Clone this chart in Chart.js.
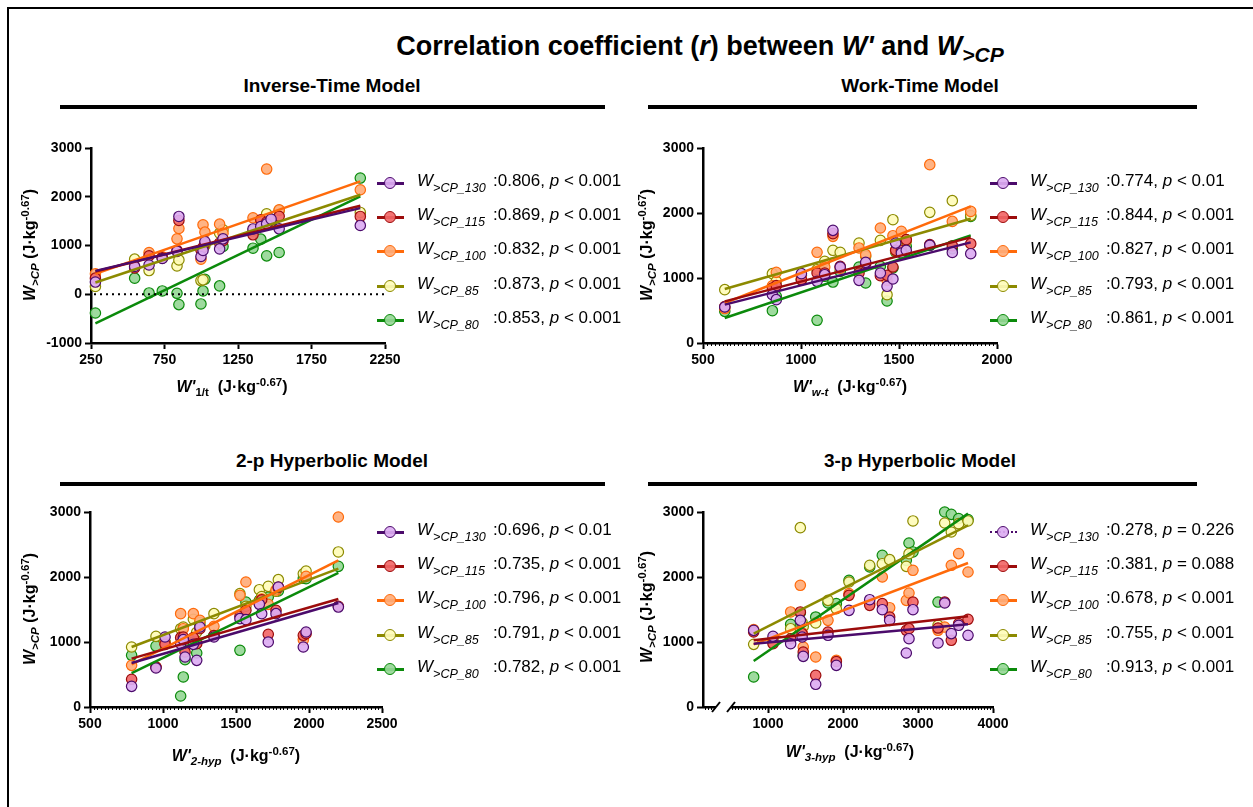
<!DOCTYPE html>
<html>
<head>
<meta charset="utf-8">
<script src="https://cdn.jsdelivr.net/npm/chart.js@4.4.0/dist/chart.umd.min.js"></script>
<style>
body{margin:0;width:1253px;height:807px;background:#fff;position:relative;overflow:hidden;font-family:"Liberation Sans",Arial,sans-serif;color:#000}
#frame{position:absolute;left:7px;top:7px;width:1300px;height:900px;border:2px solid #000}
canvas{position:absolute}
.t{position:absolute;white-space:nowrap;font-weight:bold}
.bar{position:absolute;height:4px;background:#000}
.ytitle{position:absolute;width:220px;height:22px;text-align:center;font-weight:bold;font-size:16px;line-height:22px;transform:rotate(-90deg);white-space:nowrap}
.xtitle{position:absolute;width:240px;height:22px;text-align:center;font-weight:bold;font-size:16px;line-height:22px;white-space:nowrap}
.sb{font-size:0.72em;vertical-align:-0.35em;line-height:0}
.sp{font-size:0.72em;vertical-align:0.55em;line-height:0}
.leg{position:absolute;font-size:17px;line-height:20px;white-space:nowrap}
.leg .lab{display:inline-block;width:76px}
.leg .sb{font-size:0.74em;vertical-align:-0.45em}
.mk{position:absolute;width:27px;height:14px}
.mk .ln{position:absolute;left:0;right:0;top:6px;height:3px}
.mk .dot{position:absolute;left:7px;top:1px;width:10px;height:10px;border-radius:50%;border:1.5px solid}
</style>
</head>
<body>
<div id="frame"></div>
<div class="t" style="left:0;width:1400px;text-align:center;top:31px;font-size:27px">Correlation coefficient (<i>r</i>) between <i>W'</i> and <i>W</i><span class="sb" style="font-size:0.78em"><i>&gt;CP</i></span></div>

<div class="t" style="left:132px;width:400px;text-align:center;top:75px;font-size:19px">Inverse-Time Model</div>
<div class="bar" style="left:60px;width:545px;top:105px"></div>
<div class="t" style="left:720px;width:400px;text-align:center;top:75px;font-size:19px">Work-Time Model</div>
<div class="bar" style="left:648px;width:549px;top:105px"></div>
<div class="t" style="left:132px;width:400px;text-align:center;top:450px;font-size:19px">2-p Hyperbolic Model</div>
<div class="bar" style="left:60px;width:545px;top:482px"></div>
<div class="t" style="left:720px;width:400px;text-align:center;top:450px;font-size:19px">3-p Hyperbolic Model</div>
<div class="bar" style="left:648px;width:549px;top:482px"></div>

<canvas id="c1"></canvas>
<canvas id="c2"></canvas>
<canvas id="c3"></canvas>
<canvas id="c4"></canvas>

<div class="ytitle" style="left:-80px;top:234px"><i>W</i><span class="sb"><i>&gt;CP</i></span> (J·kg<span class="sp">-0.67</span>)</div>
<div class="ytitle" style="left:537px;top:234px"><i>W</i><span class="sb"><i>&gt;CP</i></span> (J·kg<span class="sp">-0.67</span>)</div>
<div class="ytitle" style="left:-80px;top:598px"><i>W</i><span class="sb"><i>&gt;CP</i></span> (J·kg<span class="sp">-0.67</span>)</div>
<div class="ytitle" style="left:537px;top:596px"><i>W</i><span class="sb"><i>&gt;CP</i></span> (J·kg<span class="sp">-0.67</span>)</div>

<div class="xtitle" style="left:112px;top:376px"><i>W'</i><span class="sb">1/t</span>&nbsp; (J·kg<span class="sp">-0.67</span>)</div>
<div class="xtitle" style="left:730px;top:376px"><i>W'</i><span class="sb"><i>w-t</i></span>&nbsp; (J·kg<span class="sp">-0.67</span>)</div>
<div class="xtitle" style="left:116px;top:745px"><i>W'</i><span class="sb"><i>2-hyp</i></span>&nbsp; (J·kg<span class="sp">-0.67</span>)</div>
<div class="xtitle" style="left:730px;top:741px"><i>W'</i><span class="sb"><i>3-hyp</i></span>&nbsp; (J·kg<span class="sp">-0.67</span>)</div>

<div id="legends"></div>

<script>
// grupos (% de CP)
const groups = ['130', '115', '100', '85', '80'];

// Inverse-Time
const invX = [280, 547, 645, 735, 835, 848, 998, 1012, 1025, 1125, 1148, 1352, 1405, 1445, 1475, 1530, 2082];
const inv130 = [250, 570, 600, 733, 880, 1596, 774, 900, 1082, 930, 1137, 1340, 1390, 1445, 1541, 1342, 1411];
const inv115 = [330, 540, 790, 750, 900, 1514, 910, 960, 1048, 1050, 1100, 1219, 1527, 1480, 1520, 1600, 1596];
const inv100 = [420, 560, 856, 770, 1137, 1349, 719, 1425, 1274, 1438, 1250, 1568, 1500, 2568, 1520, 1733, 2144];
const inv85 = [160, 720, 486, 740, 582, 705, 281, 295, 1000, 1253, 1322, 1300, 1400, 1650, 1530, 1720, 1678];
const inv80 = [-385, 330, 27, 68, 20, -212, -199, 68, 308, 171, 980, 945, 1130, 788, 1480, 856, 2384];
const invLineX = [280, 2082];
const invLine130 = [479, 1767];
const invLine115 = [466, 1815];
const invLine100 = [418, 2315];
const invLine85 = [240, 2041];
const invLine80 = [-596, 2007];
const invR = ['0.806', '0.869', '0.832', '0.873', '0.853'];
const invP = ['< 0.001', '< 0.001', '< 0.001', '< 0.001', '< 0.001'];

// Work-Time
const wtX = [611, 854, 874, 1002, 1082, 1121, 1163, 1200, 1296, 1330, 1405, 1439, 1469, 1483, 1512, 1537, 1657, 1772, 1866];
const wt130 = [554, 744, 667, 1067, 949, 1051, 1733, 1169, 964, 1241, 1077, 872, 985, 1538, 1385, 1426, 1503, 1394, 1374];
const wt115 = [560, 846, 882, 974, 1077, 1077, 1682, 1180, 1077, 1221, 1036, 1041, 1169, 1426, 1426, 1590, 1513, 1497, 1528];
const wt100 = [530, 880, 1087, 990, 1395, 1169, 1641, 1150, 1462, 1359, 1769, 964, 1651, 1420, 1718, 1590, 2744, 1871, 2025];
const wt85 = [821, 1067, 950, 1040, 1128, 1256, 1426, 1395, 1538, 1333, 1579, 744, 1897, 1430, 1500, 1564, 2010, 2190, 1960];
const wt80 = [487, 497, 718, 970, 349, 1026, 938, 1100, 1169, 923, 1180, 646, 1154, 1400, 1440, 1487, 1500, 1450, 1948];
const wtLineX = [611, 1866];
const wtLine130 = [590, 1548];
const wtLine115 = [641, 1625];
const wtLine100 = [615, 2102];
const wtLine85 = [831, 1912];
const wtLine80 = [385, 1655];
const wtR = ['0.774', '0.844', '0.827', '0.793', '0.861'];
const wtP = ['< 0.01', '< 0.001', '< 0.001', '< 0.001', '< 0.001'];

// 2-p Hyperbolic
const h2X = [785, 952, 1014, 1121, 1139, 1151, 1208, 1231, 1253, 1349, 1527, 1568, 1660, 1676, 1721, 1774, 1790, 1961, 1980, 2201];
const h2130 = [318, 600, 1077, 974, 1036, 769, 964, 718, 1231, 1077, 1359, 1344, 1579, 1436, 1000, 1436, 1846, 923, 1154, 1538];
const h2115 = [426, 615, 964, 1067, 1077, 846, 1067, 974, 1205, 1100, 1395, 1487, 1590, 1650, 1118, 1487, 1840, 1103, 1128, 1550];
const h2100 = [641, 615, 980, 1436, 1205, 920, 1436, 1000, 1333, 1241, 1718, 1923, 1620, 1660, 1579, 1800, 1836, 1036, 2010, 2923];
const h285 = [923, 1087, 1000, 1205, 1230, 923, 1350, 1150, 1300, 1436, 1744, 1550, 1805, 1700, 1856, 1780, 1959, 2050, 2092, 2385];
const h280 = [795, 938, 990, 169, 462, 728, 1000, 831, 1250, 1100, 872, 1615, 1641, 1692, 1692, 1795, 1785, 1980, 1974, 2164];
const h2LineX = [785, 2201];
const h2Line130 = [677, 1600];
const h2Line115 = [744, 1662];
const h2Line100 = [656, 2256];
const h2Line85 = [923, 2128];
const h2Line80 = [523, 2062];
const h2R = ['0.696', '0.735', '0.796', '0.791', '0.782'];
const h2P = ['< 0.01', '< 0.001', '< 0.001', '< 0.001', '< 0.001'];

// 3-p Hyperbolic
const h3X = [809, 1067, 1302, 1431, 1455, 1470, 1636, 1800, 1911, 2080, 2356, 2524, 2622, 2844, 2880, 2933, 3267, 3356, 3444, 3542, 3667];
const h3130 = [1179, 1087, 974, 1333, 1077, 779, 349, 1103, 641, 1487, 1651, 1497, 1333, 831, 1051, 1497, 985, 1600, 1129, 1257, 1103];
const h3115 = [1154, 974, 1050, 1462, 1128, 846, 487, 1154, 700, 1718, 1564, 1590, 1385, 1179, 1205, 1615, 1215, 1615, 1026, 1283, 1349];
const h3100 = [1190, 1000, 1462, 1872, 1140, 923, 769, 1333, 718, 1744, 1600, 2000, 1528, 1641, 1754, 2103, 1180, 1230, 2180, 2360, 2077];
const h385 = [964, 1050, 1205, 2759, 1300, 1240, 1292, 1641, 1513, 1923, 2179, 2205, 2267, 2164, 2359, 2862, 1257, 2831, 2692, 2821, 2862];
const h380 = [462, 1000, 1272, 1450, 1240, 795, 1385, 1600, 1590, 1949, 2154, 2333, 2250, 2256, 2523, 2385, 1615, 3000, 2964, 2900, 2883];
const h3LineX = [809, 3667];
const h3Line130 = [974, 1272];
const h3Line115 = [1026, 1395];
const h3Line100 = [964, 2215];
const h3Line85 = [1128, 2795];
const h3Line80 = [708, 2975];
const h3R = ['0.278', '0.381', '0.678', '0.755', '0.913'];
const h3P = ['= 0.226', '= 0.088', '< 0.001', '< 0.001', '< 0.001'];

// estilos
const lineColors = ['#4b0b6b', '#9c0c0c', '#ff6a0a', '#8c8a00', '#0b8a0b'];
const fillColors = ['rgba(220,172,242,0.92)', 'rgba(242,104,104,0.92)', 'rgba(255,172,122,0.92)', 'rgba(255,252,186,0.92)', 'rgba(150,215,150,0.92)'];
const FONT = 'Liberation Sans, Arial, sans-serif';

// ticks menores del eje x
const minorTicks = {
    id: 'minorTicks',
    afterDraw(chart, args, opts) {
        if (!opts.step) return;
        const ctx = chart.ctx, xs = chart.scales.x, b = chart.chartArea.bottom;
        ctx.save();
        ctx.strokeStyle = '#000';
        ctx.lineWidth = 1;
        for (let v = Math.ceil(xs.min / opts.step) * opts.step; v <= xs.max; v += opts.step) {
            const px = Math.round(xs.getPixelForValue(v)) + 0.5;
            if (opts.gap && px > opts.gap[0] && px < opts.gap[1]) continue;
            ctx.beginPath();
            ctx.moveTo(px, b);
            ctx.lineTo(px, b + 3);
            ctx.stroke();
        }
        ctx.restore();
    }
};

// línea punteada en y = 0
const zeroLine = {
    id: 'zeroLine',
    afterDraw(chart, args, opts) {
        if (!opts.show) return;
        const ctx = chart.ctx, y = chart.scales.y.getPixelForValue(0);
        ctx.save();
        ctx.setLineDash([2, 4]);
        ctx.strokeStyle = '#000';
        ctx.lineWidth = 2;
        ctx.beginPath();
        ctx.moveTo(chart.chartArea.left + 3, y);
        ctx.lineTo(chart.chartArea.right, y);
        ctx.stroke();
        ctx.restore();
    }
};

// corte del eje x
const axisBreak = {
    id: 'axisBreak',
    afterDraw(chart, args, opts) {
        if (!opts.gap) return;
        const ctx = chart.ctx, b = chart.chartArea.bottom;
        const [g0, g1] = opts.gap;
        ctx.save();
        ctx.fillStyle = '#fff';
        ctx.fillRect(g0, b - 3, g1 - g0, 12);
        ctx.strokeStyle = '#000';
        ctx.lineWidth = 2;
        [g0, g1].forEach(x => {
            ctx.beginPath();
            ctx.moveTo(x - 4, b + 5);
            ctx.lineTo(x + 4, b - 5);
            ctx.stroke();
        });
        ctx.restore();
    }
};

function makePanel(id, box, xs, ys, lineX, lines, xOpt, yOpt, extra) {
    const cv = document.getElementById(id);
    const padL = 62, padT = 15, padR = 30, padB = 48;
    cv.width = Math.round(box.right - box.left + padL + padR);
    cv.height = Math.round(box.bottom - box.top + padT + padB);
    cv.style.left = (box.left - padL) + 'px';
    cv.style.top = (box.top - padT) + 'px';

    const datasets = [];
    lines.forEach((ln, i) => {
        datasets.push({
            type: 'line',
            data: lineX.map((x, j) => ({ x: x, y: ln[j] })),
            borderColor: lineColors[i],
            borderWidth: 2.5,
            pointRadius: 0,
            fill: false,
            order: 0,
            clip: false
        });
    });
    ys.forEach((arr, i) => {
        datasets.push({
            type: 'scatter',
            data: xs.map((x, j) => ({ x: x, y: arr[j] })),
            backgroundColor: fillColors[i],
            borderColor: lineColors[i],
            borderWidth: 1.2,
            pointRadius: 5.2,
            order: 1 + i,
            clip: false
        });
    });

    const tickFont = { family: FONT, size: 14, weight: 'bold' };
    new Chart(cv.getContext('2d'), {
        type: 'scatter',
        data: { datasets: datasets },
        options: {
            responsive: false,
            animation: false,
            events: [],
            layout: { padding: { top: padT, right: padR, left: 0, bottom: 0 } },
            plugins: {
                legend: { display: false },
                tooltip: { enabled: false },
                minorTicks: { step: extra.minor, gap: extra.gap },
                zeroLine: { show: extra.zero },
                axisBreak: { gap: extra.gap }
            },
            scales: {
                x: {
                    type: 'linear',
                    min: xOpt.min,
                    max: xOpt.max,
                    afterBuildTicks: s => { s.ticks = xOpt.ticks.map(v => ({ value: v })); },
                    afterFit: s => { s.height = padB; },
                    border: { color: '#000', width: 2.5 },
                    grid: { display: true, drawOnChartArea: false, drawTicks: true, tickLength: 6, tickWidth: 2, tickColor: '#000' },
                    ticks: { color: '#000', font: tickFont, padding: 3, maxRotation: 0, autoSkip: false, callback: v => String(v) }
                },
                y: {
                    type: 'linear',
                    min: yOpt.min,
                    max: yOpt.max,
                    afterBuildTicks: s => { s.ticks = yOpt.ticks.map(v => ({ value: v })); },
                    afterFit: s => { s.width = padL; },
                    border: { color: '#000', width: 2.5 },
                    grid: { display: true, drawOnChartArea: false, drawTicks: true, tickLength: 6, tickWidth: 2, tickColor: '#000' },
                    ticks: { color: '#000', font: tickFont, padding: 3, autoSkip: false, callback: v => String(v) }
                }
            }
        },
        plugins: [minorTicks, zeroLine, axisBreak]
    });
}

makePanel('c1', { left: 91, right: 385, top: 148, bottom: 343 },
    invX, [inv130, inv115, inv100, inv85, inv80], invLineX,
    [invLine130, invLine115, invLine100, invLine85, invLine80],
    { min: 250, max: 2250, ticks: [250, 750, 1250, 1750, 2250] },
    { min: -1000, max: 3000, ticks: [-1000, 0, 1000, 2000, 3000] },
    { zero: true });

makePanel('c2', { left: 703, right: 997, top: 148, bottom: 343 },
    wtX, [wt130, wt115, wt100, wt85, wt80], wtLineX,
    [wtLine130, wtLine115, wtLine100, wtLine85, wtLine80],
    { min: 500, max: 2000, ticks: [500, 1000, 1500, 2000] },
    { min: 0, max: 3000, ticks: [0, 1000, 2000, 3000] },
    { minor: 20 });

makePanel('c3', { left: 90, right: 382, top: 512, bottom: 707 },
    h2X, [h2130, h2115, h2100, h285, h280], h2LineX,
    [h2Line130, h2Line115, h2Line100, h2Line85, h2Line80],
    { min: 500, max: 2500, ticks: [500, 1000, 1500, 2000, 2500] },
    { min: 0, max: 3000, ticks: [0, 1000, 2000, 3000] },
    { minor: 25 });

makePanel('c4', { left: 703, right: 993, top: 512, bottom: 707 },
    h3X, [h3130, h3115, h3100, h385, h380], h3LineX,
    [h3Line130, h3Line115, h3Line100, h3Line85, h3Line80],
    { min: 133.3, max: 4000, ticks: [1000, 2000, 3000, 4000] },
    { min: 0, max: 3000, ticks: [0, 1000, 2000, 3000] },
    { minor: 40, gap: [75, 90] });

// leyendas
function addLegend(markX, textX, rowsY, rs, ps, dottedFirst) {
    const host = document.getElementById('legends');
    groups.forEach((g, i) => {
        const mk = document.createElement('div');
        mk.className = 'mk';
        mk.style.left = markX + 'px';
        mk.style.top = (rowsY[i] - 7) + 'px';
        const lineStyle = (dottedFirst && i === 0)
            ? 'border-top:2px dotted ' + lineColors[i] + ';height:0;top:6px;'
            : 'background:' + lineColors[i] + ';';
        mk.innerHTML = '<div class="ln" style="' + lineStyle + '"></div>' +
            '<div class="dot" style="border-color:' + lineColors[i] + ';background:' + fillColors[i] + '"></div>';
        host.appendChild(mk);

        const lg = document.createElement('div');
        lg.className = 'leg';
        lg.style.left = textX + 'px';
        lg.style.top = (rowsY[i] - 12) + 'px';
        lg.innerHTML = '<span class="lab"><i>W</i><span class="sb"><i>&gt;CP_' + g + '</i></span></span>:' +
            rs[i] + ', <i>p</i> ' + ps[i].replace('<', '&lt;');
        host.appendChild(lg);
    });
}
const topRows = [183, 217, 251, 286, 320];
const botRows = [532, 566, 600, 635, 669];
addLegend(377, 417, topRows, invR, invP, false);
addLegend(990, 1030, topRows, wtR, wtP, false);
addLegend(377, 417, botRows, h2R, h2P, false);
addLegend(990, 1030, botRows, h3R, h3P, true);
</script>
</body>
</html>
